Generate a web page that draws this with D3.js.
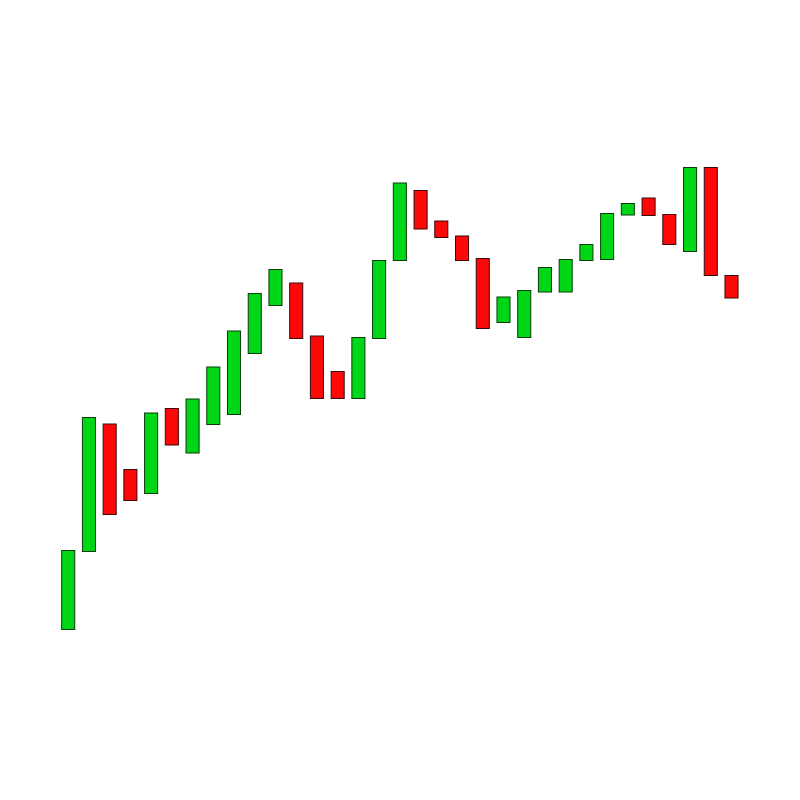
<!DOCTYPE html>
<html>
<head>
<meta charset="utf-8">
<script src="https://cdn.jsdelivr.net/npm/d3@7"></script>
<style>
html,body{margin:0;padding:0;background:#fff;}
svg{display:block;}
</style>
</head>
<body>
<svg id="chart" width="800" height="800"></svg>
<script>
const opens  = [14.1,29.7,55.2,46.1,41.3,58.3,49.4,55.1,57.1,69.3,78.9,83.4,72.8,65.7,60.3,72.3,87.9,101.9,95.8,92.8,88.3,75.5,72.5,81.6,81.6,87.9,88.1,97.0,100.4,97.1,89.7,106.5,84.9];
const closes = [29.9,56.5,37.1,39.9,57.4,51.0,60.2,66.6,73.8,81.3,86.1,72.3,60.3,60.3,72.5,87.9,103.4,94.2,92.5,87.9,74.3,80.6,81.9,86.5,88.1,91.1,97.3,99.3,96.9,91.1,106.5,84.9,80.4];

const data = opens.map((o,i)=>({i, open:o, close:closes[i]}));
const svg = d3.select("#chart");

const x = d3.scaleLinear().domain([0, data.length-1]).range([68.2, 731.5]);
const y = d3.scaleLinear().domain([0,120]).range([700,100]);
const step = x(1)-x(0);
const w = step*0.63;

svg.selectAll("rect.candle").data(data).enter().append("rect")
  .attr("class","candle")
  .attr("x", d=>x(d.i)-w/2)
  .attr("width", w)
  .attr("y", d=>y(Math.max(d.open,d.close)))
  .attr("height", d=>Math.abs(y(d.open)-y(d.close)))
  .attr("fill", d=>d.close>=d.open ? "rgb(0,214,24)" : "rgb(252,8,8)")
  .attr("stroke", d=>d.close>=d.open ? "#0a3a0a" : "#3a0a0a")
  .attr("stroke-width", 1);
</script>
</body>
</html>
